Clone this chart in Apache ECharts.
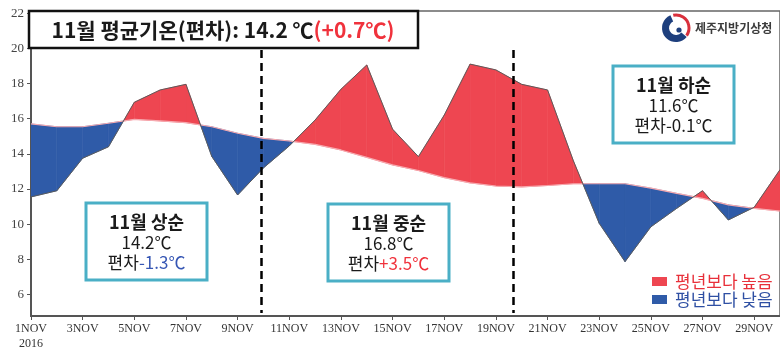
<!DOCTYPE html>
<html>
<head>
<meta charset="utf-8">
<script src="https://cdn.jsdelivr.net/npm/echarts@6/dist/echarts.min.js"></script>
<style>html,body{margin:0;padding:0;background:#fff}#c{width:780px;height:353px}</style>
</head>
<body>
<div id="c"></div>
<script>
// ---- data ----
const days = [1,2,3,4,5,6,7,8,9,10,11,12,13,14,15,16,17,18,19,20,21,22,23,24,25,26,27,28,29,30];
const actual = [11.55,11.9,13.75,14.4,16.93,17.63,17.95,13.85,11.66,13.2,14.45,15.92,17.67,19.05,15.4,13.84,16.2,19.1,18.77,17.95,17.63,13.6,10.05,7.87,9.85,10.9,11.9,10.24,10.96,13.1];
const normal = [15.7,15.54,15.54,15.74,15.96,15.87,15.77,15.54,15.17,14.88,14.73,14.54,14.22,13.8,13.37,13.05,12.65,12.35,12.17,12.12,12.2,12.3,12.3,12.3,12.05,11.75,11.47,11.1,10.9,10.75];
const xTickDays = [1,3,5,7,9,11,13,15,17,19,21,23,25,27,29];
const yTicks = [6,8,10,12,14,16,18,20,22];
const dividers = [9.92, 19.67];
const titleMain = '11월 평균기온(편차): 14.2 ℃';
const titleDev = '(+0.7℃)';
const periods = [
  {name:'11월 상순', mean:'14.2℃', dev:'-1.3℃', tone:'blue'},
  {name:'11월 중순', mean:'16.8℃', dev:'+3.5℃', tone:'red'},
  {name:'11월 하순', mean:'11.6℃', dev:'-0.1℃', tone:'plain'}
];
const legendItems = ['평년보다 높음','평년보다 낮음'];
const orgName = '제주지방기상청';

// ---- styles ----
const RED = '#EE4651', BLUE = '#2F5BA8', TEAL = '#4AAFC6';
const KR = '"Noto Sans CJK KR","Noto Sans",sans-serif';

const segs = [];
for (let i = 0; i < days.length - 1; i++) {
  segs.push([days[i], actual[i], normal[i], days[i+1], actual[i+1], normal[i+1]]);
}

function renderBand(params, api) {
  const x0 = api.value(0), a0 = api.value(1), n0 = api.value(2);
  const x1 = api.value(3), a1 = api.value(4), n1 = api.value(5);
  const d0 = a0 - n0, d1 = a1 - n1;
  const poly = (pts, c) => ({
    type: 'polygon',
    shape: {points: pts.map(p => api.coord(p))},
    style: {fill: c, stroke: c, lineWidth: 0.6}
  });
  const children = [];
  if (d0 * d1 >= 0) {
    children.push(poly([[x0,a0],[x1,a1],[x1,n1],[x0,n0]], (d0 + d1) >= 0 ? RED : BLUE));
  } else {
    const t = d0 / (d0 - d1);
    const xc = x0 + t * (x1 - x0), yc = n0 + t * (n1 - n0);
    children.push(poly([[x0,a0],[xc,yc],[x0,n0]], d0 > 0 ? RED : BLUE));
    children.push(poly([[xc,yc],[x1,a1],[x1,n1]], d1 > 0 ? RED : BLUE));
  }
  return {type: 'group', children};
}

const boxPos = [
  {x: 86, y: 203},
  {x: 328, y: 204},
  {x: 613, y: 66}
];
const boxW = 121, boxH = 77;

const graphics = [];
// title box
graphics.push({
  type: 'rect', z: 100, shape: {x: 29, y: 11, width: 389, height: 37},
  style: {fill: '#fff', stroke: '#111', lineWidth: 2.5}
});
graphics.push({
  type: 'text', z: 101, x: 223, y: 30,
  style: {
    text: '{a|' + titleMain + '}{r|' + titleDev + '}',
    align: 'center', verticalAlign: 'middle',
    rich: {
      a: {fontSize: 21, fontWeight: 'bold', fill: '#1a1a1a', fontFamily: KR},
      r: {fontSize: 21, fontWeight: 'bold', fill: '#F0323C', fontFamily: KR}
    }
  }
});
// period boxes
periods.forEach((p, i) => {
  const b = boxPos[i];
  graphics.push({
    type: 'rect', z: 100, shape: {x: b.x, y: b.y, width: boxW, height: boxH},
    style: {fill: '#fff', stroke: TEAL, lineWidth: 3}
  });
  const devStyle = p.tone === 'blue' ? 'db' : (p.tone === 'red' ? 'dr' : 'n');
  graphics.push({
    type: 'text', z: 101, x: b.x + boxW / 2, y: b.y + boxH / 2 + 1,
    style: {
      text: '{t|' + p.name + '}\n{n|' + p.mean + '}\n{n|편차}{' + devStyle + '|' + p.dev + '}',
      align: 'center', verticalAlign: 'middle',
      rich: {
        t: {fontSize: 18, fontWeight: 'bold', fill: '#1a1a1a', fontFamily: KR, lineHeight: 20},
        n: {fontSize: 17, fill: '#1a1a1a', fontFamily: KR, lineHeight: 20},
        db: {fontSize: 17, fill: '#3656B4', fontFamily: KR, lineHeight: 20},
        dr: {fontSize: 17, fill: '#F0323C', fontFamily: KR, lineHeight: 20}
      }
    }
  });
});
// legend
[[RED, 277, legendItems[0], '#E8303A'], [BLUE, 295, legendItems[1], '#2E4FA3']].forEach(l => {
  graphics.push({type: 'rect', z: 100, shape: {x: 652, y: l[1], width: 15, height: 9}, style: {fill: l[0]}});
  graphics.push({type: 'text', z: 100, x: 675, y: l[1] + 5,
    style: {text: l[2], fill: l[3], fontSize: 17, fontFamily: KR, verticalAlign: 'middle', align: 'left'}});
});
// logo
graphics.push({type: 'arc', z: 100, shape: {cx: 676, cy: 28, r: 10.5, startAngle: 0.7, endAngle: 4.3, clockwise: true},
  style: {stroke: '#1E3F7D', lineWidth: 7, fill: null}});
graphics.push({type: 'arc', z: 100, shape: {cx: 676, cy: 28, r: 13, startAngle: 4.5, endAngle: 6.9, clockwise: true},
  style: {stroke: '#D9303C', lineWidth: 3, fill: null}});
graphics.push({type: 'circle', z: 100, shape: {cx: 679, cy: 30, r: 2.6}, style: {fill: '#1E3F7D'}});
graphics.push({type: 'text', z: 100, x: 695, y: 28,
  style: {text: orgName, fill: '#3c3c3c', fontSize: 12, fontWeight: 'bold', fontFamily: KR, verticalAlign: 'middle'}});

const chart = echarts.init(document.getElementById('c'), null, {renderer: 'canvas'});
chart.setOption({
  animation: false,
  backgroundColor: '#fff',
  grid: {left: 31, top: 11, right: -5, bottom: 37, show: true, borderColor: '#666', borderWidth: 1.5, backgroundColor: 'transparent'},
  xAxis: {
    type: 'value', min: 1, max: 30,
    axisLine: {show: true, lineStyle: {color: '#555', width: 2}},
    axisTick: {show: true, length: 4, customValues: xTickDays, lineStyle: {color: '#555'}},
    axisLabel: {
      customValues: xTickDays, margin: 5, color: '#333', fontSize: 12, lineHeight: 15,
      fontFamily: '"Liberation Serif","Times New Roman",serif',
      formatter: v => v === 1 ? '1NOV\n2016' : v + 'NOV'
    },
    splitLine: {show: false}
  },
  yAxis: {
    type: 'value', min: 4.78, max: 22.12,
    axisLine: {show: true, lineStyle: {color: '#555', width: 2}},
    axisTick: {show: true, length: 4, customValues: yTicks, lineStyle: {color: '#555'}},
    axisLabel: {customValues: yTicks, margin: 7, color: '#444', fontSize: 13,
      fontFamily: '"Liberation Serif","Times New Roman",serif'},
    splitLine: {show: false}
  },
  series: [
    {type: 'custom', renderItem: renderBand, data: segs, encode: {x: [0, 3], y: [1, 2, 4, 5]}, clip: true, z: 2},
    {type: 'line', data: days.map((d, i) => [d, normal[i]]), symbol: 'none', z: 3,
      lineStyle: {color: '#F6A9AF', width: 1.2}},
    {type: 'line', data: days.map((d, i) => [d, actual[i]]), symbol: 'none', z: 4,
      lineStyle: {color: '#5a5a5a', width: 1}},
    {type: 'line', data: [], z: 5,
      markLine: {
        symbol: 'none', silent: true, label: {show: false},
        lineStyle: {color: '#000', width: 2.5, type: [8, 5]},
        data: dividers.map(x => [{coord: [x, 19.9]}, {coord: [x, 4.95]}])
      }}
  ],
  graphic: graphics
});
</script>
</body>
</html>
